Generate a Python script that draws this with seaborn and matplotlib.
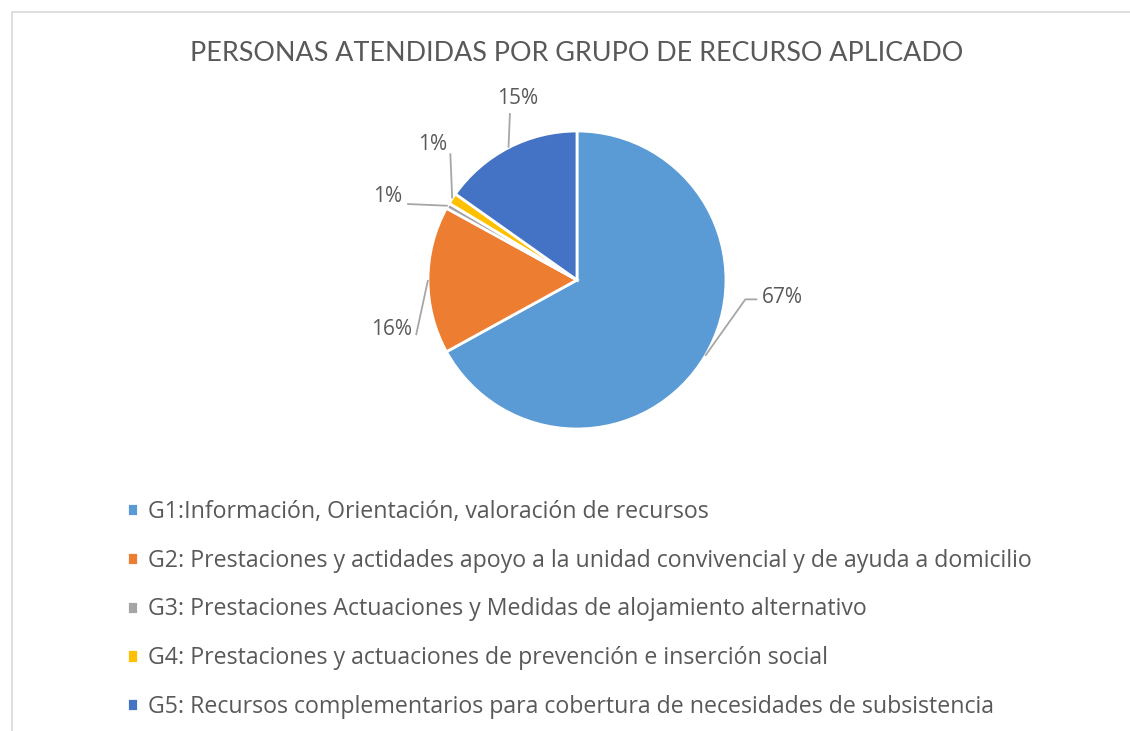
import matplotlib
matplotlib.use("Agg")
import matplotlib.pyplot as plt
from matplotlib.lines import Line2D
import numpy as np
import seaborn as sns

sns.set_theme(style="white")
plt.rcParams['font.family'] = ['Open Sans', 'DejaVu Sans']

# ---- Data ----
groups = [
    "G1:Información, Orientación, valoración de recursos",
    "G2: Prestaciones y actidades apoyo a la unidad convivencial y de ayuda a domicilio",
    "G3: Prestaciones Actuaciones y Medidas de alojamiento alternativo",
    "G4: Prestaciones y actuaciones de prevención e inserción social",
    "G5: Recursos complementarios para cobertura de necesidades de subsistencia",
]
shares = [67.0, 16.0, 0.6, 1.2, 15.2]
colors = ["#5B9BD5", "#ED7D31", "#A5A5A5", "#FFC000", "#4472C4"]

# label layout: (elbow x, elbow y, text x, text y, ha) per slice
label_layout = [
    (1.13, -0.13, 1.24, -0.12, "left"),
    (-1.08, -0.37, -1.11, -0.33, "right"),
    (-1.14, 0.51, -1.17, 0.56, "right"),
    (-0.85, 0.85, -0.97, 0.91, "center"),
    (-0.45, 1.12, -0.40, 1.22, "center"),
]

text_col = "#595959"
line_col = "#A6A6A6"

fig = plt.figure(figsize=(11.3, 7.31), dpi=100)
ax = fig.add_axes([0.2469, 0.3724, 0.5274, 0.5503])

wedges, _ = ax.pie(shares, colors=colors, startangle=90, counterclock=False,
                   wedgeprops={'edgecolor': 'white', 'linewidth': 2})
ax.set_xlim(-2, 2)
ax.set_ylim(-1.2, 1.5)
ax.set_aspect('auto')
ax.axis('off')

for w, v, (ex, ey, tx, ty, ha) in zip(wedges, shares, label_layout):
    mid = np.deg2rad((w.theta1 + w.theta2) / 2)
    sx, sy = np.cos(mid), np.sin(mid)
    pts_x = [sx, ex]
    pts_y = [sy, ey]
    if ha == "left":
        pts_x.append(tx - 0.03)
        pts_y.append(ey)
    ax.plot(pts_x, pts_y, color=line_col, lw=1.3, solid_capstyle='butt')
    ax.text(tx, ty, f"{round(v)}%", ha=ha, va="center", fontsize=15,
            color=text_col)

fig.text(0.5106, 0.927, "PERSONAS ATENDIDAS POR GRUPO DE RECURSO APLICADO",
         ha="center", va="center", fontsize=19.4, color=text_col,
         family=['Lato', 'DejaVu Sans'])

fig.legend(wedges, groups, loc="upper left", bbox_to_anchor=(0.104, 0.329),
           frameon=False, fontsize=16.7, labelcolor=text_col,
           handlelength=0.5, handleheight=0.5, handletextpad=0.4,
           labelspacing=1.07, borderaxespad=0)

# chart border (top and left edges visible)
fig.add_artist(Line2D([12/1130, 1.0], [1 - 12/731, 1 - 12/731],
                      color="#D9D9D9", lw=1.2, transform=fig.transFigure))
fig.add_artist(Line2D([12/1130, 12/1130], [0, 1 - 12/731],
                      color="#D9D9D9", lw=1.2, transform=fig.transFigure))

fig.savefig("out.png", dpi=100)
